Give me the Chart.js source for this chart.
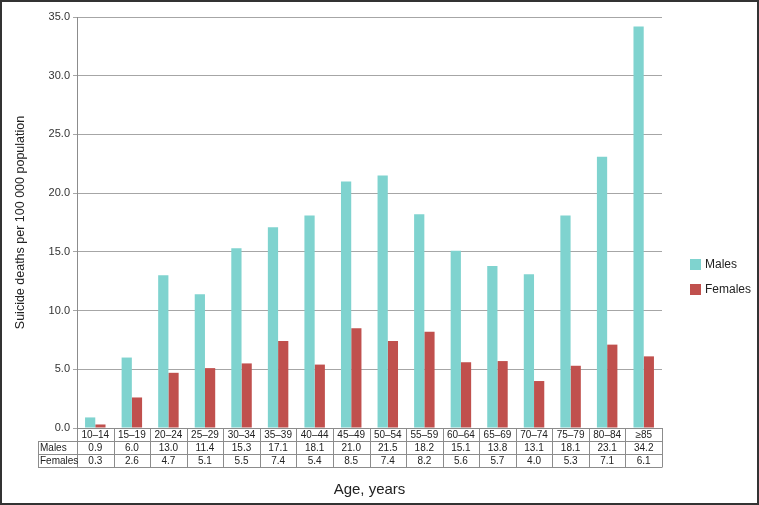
<!DOCTYPE html>
<html>
<head>
<meta charset="utf-8">
<script src="https://cdn.jsdelivr.net/npm/chart.js@4"></script>
<style>
  html, body { margin: 0; padding: 0; background: #fff; }
  canvas { display: block; }
</style>
</head>
<body>
<canvas id="chart" width="759" height="505"></canvas>
<script>
const ageGroups = ['10–14', '15–19', '20–24', '25–29', '30–34', '35–39', '40–44', '45–49',
                   '50–54', '55–59', '60–64', '65–69', '70–74', '75–79', '80–84', '≥85'];
const males   = [0.9, 6.0, 13.0, 11.4, 15.3, 17.1, 18.1, 21.0, 21.5, 18.2, 15.1, 13.8, 13.1, 18.1, 23.1, 34.2];
const females = [0.3, 2.6, 4.7, 5.1, 5.5, 7.4, 5.4, 8.5, 7.4, 8.2, 5.6, 5.7, 4.0, 5.3, 7.1, 6.1];
const yTicks  = [0, 5, 10, 15, 20, 25, 30, 35];

const FONT = '"Liberation Sans", Arial, sans-serif';
const lineColor = '#8c8c8c';
const textColor = '#222';

// draws the data table under the axis, the legend, titles and the frame
const extrasPlugin = {
    id: 'extras',
    afterDraw(chart) {
        const ctx = chart.ctx;
        const area = chart.chartArea;
        const n = ageGroups.length;
        const colW = (area.right - area.left) / n;
        const rowH = 13;
        const top = area.bottom;
        const tableLeft = 38;

        ctx.save();
        ctx.strokeStyle = lineColor;
        ctx.lineWidth = 1;
        ctx.beginPath();
        // horizontal lines
        ctx.moveTo(area.left, top + 0.5); ctx.lineTo(area.right, top + 0.5);
        for (let r = 1; r <= 3; r++) {
            const y = Math.round(top + r * rowH) + 0.5;
            ctx.moveTo(tableLeft, y); ctx.lineTo(area.right, y);
        }
        // vertical lines
        ctx.moveTo(tableLeft + 0.5, top + rowH); ctx.lineTo(tableLeft + 0.5, top + 3 * rowH + 0.5);
        for (let i = 0; i <= n; i++) {
            const x = Math.round(area.left + i * colW) + 0.5;
            ctx.moveTo(x, top); ctx.lineTo(x, top + 3 * rowH + 0.5);
        }
        ctx.stroke();

        ctx.fillStyle = textColor;
        ctx.font = '10px ' + FONT;
        ctx.textBaseline = 'middle';
        ctx.textAlign = 'left';
        ctx.fillText('Males', tableLeft + 2, top + rowH * 1.5 + 0.5);
        ctx.fillText('Females', tableLeft + 2, top + rowH * 2.5 + 0.5);
        ctx.textAlign = 'center';
        for (let i = 0; i < n; i++) {
            const cx = area.left + (i + 0.5) * colW;
            ctx.fillText(ageGroups[i], cx, top + rowH * 0.5 + 0.5);
            ctx.fillText(males[i].toFixed(1), cx, top + rowH * 1.5 + 0.5);
            ctx.fillText(females[i].toFixed(1), cx, top + rowH * 2.5 + 0.5);
        }

        // x title
        ctx.font = '15px ' + FONT;
        ctx.fillText('Age, years', (area.left + area.right) / 2, 490);

        // y title
        ctx.save();
        ctx.font = '12.5px ' + FONT;
        ctx.translate(21, (area.top + area.bottom) / 2);
        ctx.rotate(-Math.PI / 2);
        ctx.fillText('Suicide deaths per 100 000 population', 0, 0);
        ctx.restore();

        // legend
        ctx.font = '12px ' + FONT;
        ctx.textAlign = 'left';
        chart.data.datasets.forEach((ds, i) => {
            const y = 259 + i * 25;
            ctx.fillStyle = ds.backgroundColor;
            ctx.fillRect(690, y, 11, 11);
            ctx.fillStyle = textColor;
            ctx.fillText(ds.label, 705, y + 5.5);
        });

        // outer frame
        ctx.strokeStyle = '#333';
        ctx.lineWidth = 2;
        ctx.strokeRect(1, 1, 757, 503);
        ctx.restore();
    }
};

new Chart(document.getElementById('chart'), {
    type: 'bar',
    data: {
        labels: ageGroups,
        datasets: [
            { label: 'Males', data: males, backgroundColor: '#7fd3cf' },
            { label: 'Females', data: females, backgroundColor: '#c0504d' }
        ]
    },
    options: {
        responsive: false,
        animation: false,
        devicePixelRatio: 1,
        layout: { padding: { left: 0, top: 17, right: 97, bottom: 77 } },
        datasets: { bar: { categoryPercentage: 0.56, barPercentage: 1.0 } },
        plugins: {
            legend: { display: false },
            tooltip: { enabled: false }
        },
        scales: {
            x: { display: false },
            y: {
                min: 0,
                max: 35,
                afterBuildTicks: scale => { scale.ticks = yTicks.map(v => ({ value: v })); },
                afterFit: scale => { scale.width = 77; },
                ticks: {
                    callback: v => v.toFixed(1),
                    color: '#333',
                    font: { family: FONT, size: 11 },
                    padding: 3
                },
                grid: { color: '#a6a6a6', tickLength: 4 },
                border: { color: lineColor }
            }
        }
    },
    plugins: [extrasPlugin]
});
</script>
</body>
</html>
